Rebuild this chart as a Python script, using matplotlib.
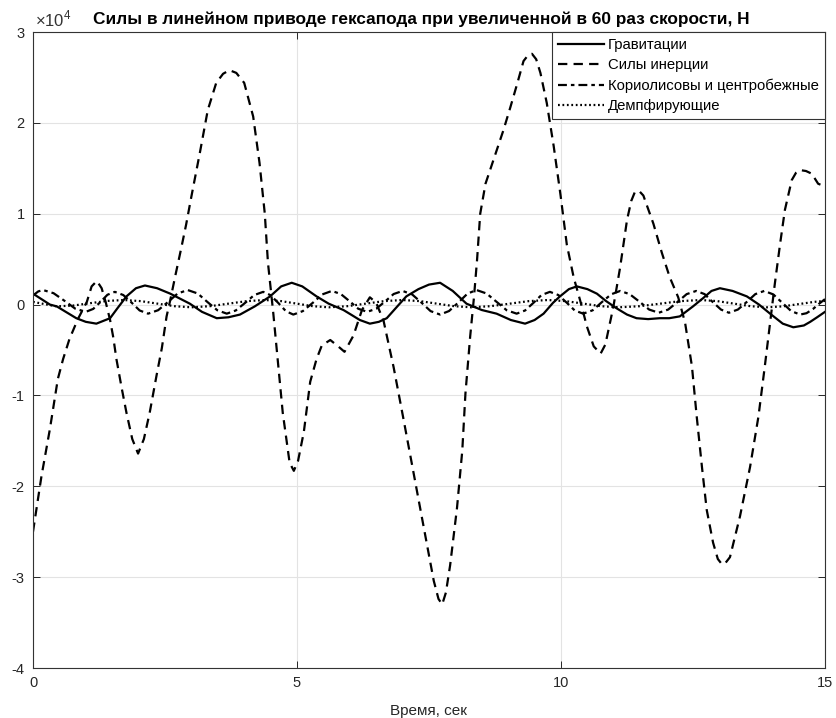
import matplotlib
matplotlib.use("Agg")
import matplotlib.pyplot as plt
from matplotlib.ticker import FuncFormatter

plt.rcParams["font.family"] = ["Liberation Sans", "DejaVu Sans"]
plt.rcParams["mathtext.fontset"] = "custom"
plt.rcParams["mathtext.rm"] = "Liberation Sans"
plt.rcParams["axes.unicode_minus"] = False

TITLE = "Силы в линейном приводе гексапода при увеличенной в 60 раз скорости, Н"
XLABEL = "Время, сек"
LABELS = ["Гравитации", "Силы инерции", "Кориолисовы и центробежные", "Демпфирующие"]
X_TICKS = [0, 5, 10, 15]
Y_TICKS = [-40000, -30000, -20000, -10000, 0, 10000, 20000, 30000]
Y_SCALE = 1e4

# Gravity component, N
t_grav = [0, 0.32, 0.45, 0.82, 1.0, 1.2, 1.46, 1.6, 1.77, 1.95, 2.12, 2.35, 2.6, 2.97,
          3.2, 3.48, 3.7, 3.92, 4.2, 4.49, 4.7, 4.9, 5.1, 5.37, 5.6, 5.88, 6.05, 6.19,
          6.38, 6.55, 6.7, 6.9, 7.07, 7.3, 7.5, 7.71, 7.95, 8.21, 8.5, 8.78, 9.05, 9.32,
          9.5, 9.67, 9.85, 9.98, 10.15, 10.3, 10.5, 10.68, 10.85, 11.05, 11.25, 11.43,
          11.65, 11.87, 12.05, 12.25, 12.5, 12.69, 12.85, 13.01, 13.25, 13.52, 13.75,
          13.96, 14.2, 14.4, 14.6, 14.72, 14.85, 15.0]
f_grav = [1200, 0, -200, -1500, -1900, -2100, -1500, -400, 900, 1800, 2100, 1800, 1200, 100,
          -800, -1500, -1400, -1100, -200, 900, 2000, 2400, 2000, 900, 100, -600, -1200, -1700,
          -2100, -1900, -1500, -200, 900, 1700, 2200, 2400, 1500, 100, -600, -1000, -1700, -2100,
          -1700, -1000, 200, 900, 1700, 2000, 1700, 1200, 400, -400, -1100, -1500,
          -1600, -1500, -1500, -1300, -200, 700, 1500, 1800, 1500, 900, 0,
          -1000, -2100, -2500, -2300, -1900, -1400, -800]

# Inertial component, N
t_iner = [0, 0.16, 0.32, 0.47, 0.57, 0.69, 0.85, 1.02, 1.11, 1.21, 1.3, 1.38, 1.46, 1.52,
          1.58, 1.68, 1.77, 1.88, 1.99, 2.1, 2.21, 2.34, 2.44, 2.53, 2.6, 2.7, 2.8, 2.9,
          3.0, 3.16, 3.31, 3.47, 3.6, 3.72, 3.85, 4.0, 4.17, 4.29, 4.39, 4.45, 4.55, 4.64,
          4.73, 4.86, 4.94, 5.02, 5.13, 5.25, 5.37, 5.47, 5.63, 5.78, 5.9, 6.07, 6.23, 6.38,
          6.5, 6.64, 6.83, 7.02, 7.21, 7.4, 7.59, 7.68, 7.75, 7.82, 7.9, 8.03, 8.13, 8.19,
          8.28, 8.35, 8.41, 8.47, 8.57, 8.72, 8.91, 9.04, 9.17, 9.29, 9.37, 9.45, 9.53, 9.61,
          9.73, 9.86, 9.99, 10.11, 10.24, 10.37, 10.49, 10.62, 10.75, 10.84, 10.99, 11.12,
          11.25, 11.33, 11.4, 11.48, 11.56, 11.75, 11.91, 12.06, 12.22, 12.35, 12.48, 12.57,
          12.67, 12.76, 12.88, 12.97, 13.05, 13.12, 13.2, 13.39, 13.58, 13.74, 13.86, 13.96,
          14.05, 14.15, 14.24, 14.37, 14.45, 14.53, 14.64, 14.75, 14.87, 15.0]
f_iner = [-25000, -18900, -13700, -8200, -6000, -3800, -1600, 300, 2000, 2600, 1800, 200, -1700, -3600,
          -6000, -9200, -11900, -14800, -16400, -14800, -11900, -7800, -4800, -1300, 500, 3300, 6000, 8800,
          11900, 16700, 21400, 24400, 25400, 25800, 25500, 24400, 20700, 15600, 10000, 4600, -900, -6400,
          -11900, -17400, -18300, -17200, -14000, -8500, -6000, -4500, -3900, -4600, -5200, -3400, -600, 800,
          200, -1800, -6900, -12700, -18600, -24500, -30400, -32400, -33000, -31700, -28700, -22400, -16100, -9800,
          -3500, 700, 4900, 10000, 13300, 15900, 19200, 21700, 24300, 26800, 27400, 27600, 27000, 25500,
          22200, 17500, 12100, 6600, 3000, 300, -2400, -4600, -5400, -4400, -300, 4100,
          9300, 11400, 12400, 12500, 12000, 8900, 5700, 3000, 800, -2000, -6800, -12300,
          -17900, -22600, -26200, -28000, -28600, -28400, -27800, -23300, -17900, -12300, -6800, -2000,
          2300, 6700, 10400, 13700, 14500, 14800, 14700, 14400, 13300, 13000]

# Coriolis and centrifugal component, N
t_cor = [0, 0.1, 0.19, 0.39, 0.6, 0.8, 1.0, 1.14, 1.28, 1.41, 1.55, 1.71, 1.87, 2.02, 2.18,
         2.37, 2.56, 2.74, 2.93, 3.12, 3.3, 3.49, 3.67, 3.84, 4.02, 4.19, 4.36, 4.5, 4.65,
         4.79, 4.93, 5.11, 5.3, 5.48, 5.66, 5.83, 6.0, 6.16, 6.33, 6.5, 6.67, 6.83, 7.0,
         7.18, 7.36, 7.53, 7.71, 7.88, 8.06, 8.23, 8.4, 8.59, 8.78, 8.97, 9.16, 9.32, 9.48,
         9.63, 9.79, 9.95, 10.11, 10.26, 10.42, 10.6, 10.77, 10.95, 11.12, 11.3, 11.49,
         11.67, 11.85, 12.03, 12.21, 12.38, 12.56, 12.72, 12.87, 13.03, 13.18, 13.35, 13.52,
         13.68, 13.85, 14.02, 14.19, 14.36, 14.53, 14.65, 14.77, 14.89, 15.0]
f_cor = [1000, 1450, 1600, 1250, 400, -450, -800, -480, 300, 1080, 1400, 1050, 200, -650, -1000,
         -620, 300, 1220, 1600, 1220, 300, -620, -1000, -650, 200, 1050, 1400, 1030, 150,
         -730, -1100, -720, 200, 1120, 1500, 1160, 350, -460, -800, -460, 350, 1160, 1500,
         1120, 200, -720, -1100, -710, 250, 1210, 1600, 1220, 300, -620, -1000, -650, 200,
         1050, 1400, 1050, 200, -650, -1000, -630, 250, 1130, 1500, 1150, 300,
         -550, -900, -550, 300, 1150, 1500, 1150, 300, -550, -900, -550, 300,
         1150, 1500, 1120, 200, -720, -1100, -950, -500, 100, 600]

# Damping component, N
t_damp = [0, 0.22, 0.45, 0.77, 1.08, 1.4, 1.72, 2.04, 2.36, 2.68, 3.0, 3.35, 3.7, 4.05, 4.4,
          4.7, 5.0, 5.3, 5.6, 5.95, 6.3, 6.65, 7.0, 7.33, 7.65, 7.98, 8.3, 8.66, 9.03, 9.39,
          9.75, 10.09, 10.43, 10.76, 11.1, 11.49, 11.88, 12.26, 12.65, 12.96, 13.28, 13.59,
          13.9, 14.2, 14.5, 14.8, 15.0]
f_damp = [300, 50, -200, -100, 150, 400, 500, 380, 100, -180, -300, -180, 100, 380, 500,
          380, 100, -180, -300, -180, 100, 380, 500, 380, 100, -180, -300, -180, 100, 380,
          500, 380, 100, -180, -300, -180, 100, 380, 500, 380, 100, -180,
          -300, -200, 50, 300, 400]

fig = plt.figure(figsize=(8.36, 7.18), dpi=100)
ax = fig.add_axes([33 / 836, 50 / 718, 792 / 836, 636 / 718])

lw = 1.6
ax.plot(t_grav, f_grav, color="black", lw=lw, linestyle="-", label=LABELS[0])
ax.plot(t_iner, f_iner, color="black", lw=lw, linestyle=(0, (4.2, 2.8)), label=LABELS[1])
ax.plot(t_cor, f_cor, color="black", lw=lw, linestyle=(0, (4.0, 1.8, 1.6, 1.8)), label=LABELS[2])
ax.plot(t_damp, f_damp, color="black", lw=lw, linestyle=(0, (0.8, 1.2)), label=LABELS[3])

ax.set_xlim(0, 15)
ax.set_ylim(-40000, 30000)
ax.set_xticks(X_TICKS)
ax.set_yticks(Y_TICKS)
ax.yaxis.set_major_formatter(FuncFormatter(lambda v, pos: f"{v / Y_SCALE:g}"))
ax.text(0.003, 1.004, r"$\times10^{4}$", transform=ax.transAxes, ha="left", va="bottom",
        fontsize=12, color="#333333")

ax.grid(True, color="#e3e3e3", lw=0.8)
ax.set_axisbelow(True)
ax.tick_params(direction="in", length=5, width=0.7, top=True, right=True,
               labelsize=10.5, colors="#262626", pad=6)
for sp in ax.spines.values():
    sp.set_color("#333333")
    sp.set_linewidth(0.8)

ax.set_title(TITLE, fontsize=12.4, fontweight="bold", pad=6, x=0.49)
ax.set_xlabel(XLABEL, fontsize=11, color="#262626", labelpad=10)

leg = ax.legend(loc="upper right", borderaxespad=0, fancybox=False, framealpha=1,
                edgecolor="#333333", fontsize=10.7, handlelength=3.1, handletextpad=0.3,
                labelspacing=0.42, borderpad=0.4)
leg.get_frame().set_linewidth(0.8)

fig.savefig("out.png", dpi=100)
